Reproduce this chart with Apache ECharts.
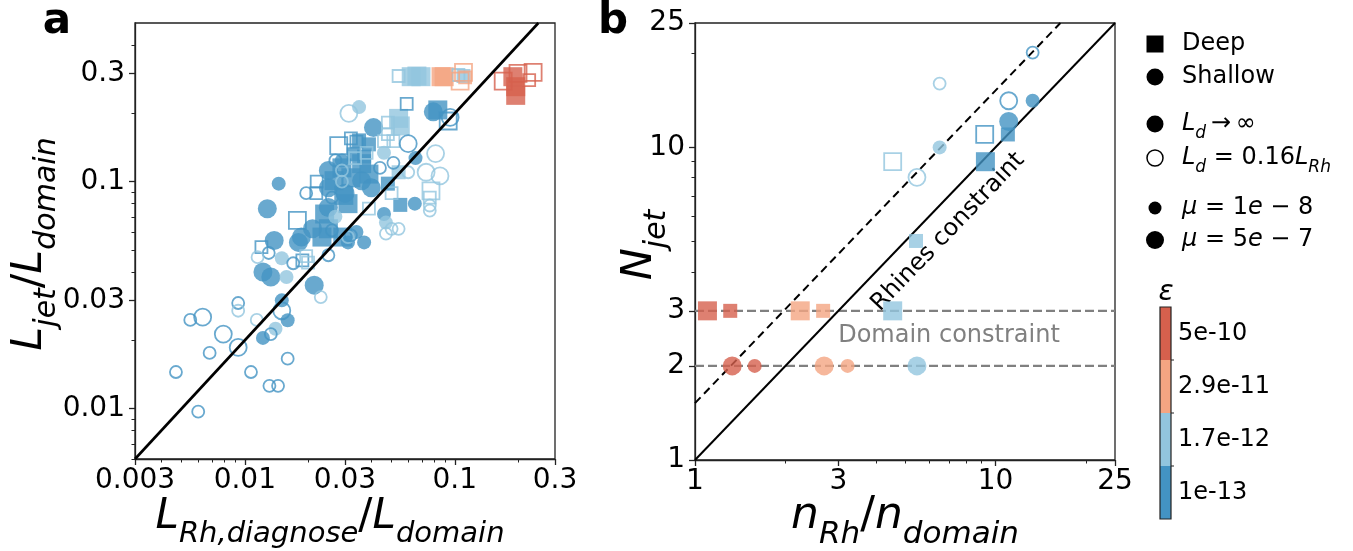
<!DOCTYPE html>
<html>
<head>
<meta charset="utf-8">
<script src="https://cdn.jsdelivr.net/npm/echarts@6.0.0/dist/echarts.min.js"></script>
<style>
  html, body { margin: 0; padding: 0; background: #fff; }
  #chart { width: 1353px; height: 551px; }
</style>
</head>
<body>
<div id="chart"></div>
<script>
// epsilon classes (colour bar, bottom to top)
const epsColors = ['#4393c3', '#92c5de', '#f4a582', '#d6604d'];
const epsLabels = ['1e-13', '1.7e-12', '2.9e-11', '5e-10'];

// axes
const aXRange = [0.003, 0.3];
const aYRange = [0.006, 0.5];
const aXTicks = [0.003, 0.01, 0.03, 0.1, 0.3];
const aXMinor = [0.004, 0.005, 0.006, 0.007, 0.008, 0.009, 0.02, 0.04, 0.05, 0.06, 0.07, 0.08, 0.09, 0.2];
const aYTicks = [0.01, 0.03, 0.1, 0.3];
const aYMinor = [0.006, 0.007, 0.008, 0.009, 0.02, 0.04, 0.05, 0.06, 0.07, 0.08, 0.09, 0.2, 0.4];
const bRange = [1, 25];
const bXTicks = [1, 3, 10, 25];
const bXMinor = [2, 4, 5, 6, 7, 8, 9, 20];
const bYTicks = [1, 2, 3, 10, 25];
const bYMinor = [4, 5, 6, 7, 8, 9, 20];

// panel a points: [L_Rh/L_domain, L_jet/L_domain, eps class, mu (0 = 1e-8, 1 = 5e-7)]
const aDeepFilled = [
  [0.062, 0.290, 1, 1], [0.066, 0.292, 1, 1], [0.069, 0.290, 1, 1],
  [0.086, 0.290, 2, 1], [0.089, 0.290, 2, 1], [0.110, 0.292, 1, 0],
  [0.189, 0.290, 3, 1], [0.195, 0.262, 3, 1], [0.195, 0.240, 3, 1],
  [0.083, 0.207, 0, 1], [0.054, 0.190, 1, 1], [0.055, 0.176, 1, 1],
  [0.039, 0.146, 0, 0], [0.035, 0.152, 0, 0], [0.029, 0.115, 0, 1],
  [0.036, 0.120, 0, 1], [0.039, 0.108, 0, 1], [0.054, 0.110, 1, 0],
  [0.048, 0.098, 0, 0], [0.055, 0.079, 0, 0], [0.031, 0.080, 0, 1],
  [0.024, 0.072, 0, 1], [0.025, 0.062, 0, 1], [0.0233, 0.057, 0, 1],
  [0.0293, 0.057, 0, 1], [0.0266, 0.101, 0, 1], [0.0296, 0.087, 0, 1],
  [0.033, 0.132, 0, 0], [0.037, 0.129, 0, 0], [0.032, 0.104, 0, 1]
];
const aDeepOpen = [
  [0.054, 0.292, 1, 0], [0.104, 0.295, 1, 0], [0.110, 0.303, 2, 1],
  [0.106, 0.277, 2, 1], [0.112, 0.288, 2, 0], [0.170, 0.277, 3, 1],
  [0.200, 0.300, 3, 1], [0.236, 0.303, 3, 1], [0.226, 0.280, 3, 0],
  [0.059, 0.220, 0, 0], [0.093, 0.185, 0, 1], [0.048, 0.182, 1, 0],
  [0.048, 0.162, 1, 0], [0.046, 0.151, 1, 0], [0.051, 0.151, 1, 0],
  [0.028, 0.144, 0, 1], [0.032, 0.155, 0, 0], [0.034, 0.150, 0, 0],
  [0.038, 0.134, 1, 0], [0.0335, 0.127, 1, 0], [0.050, 0.089, 1, 0],
  [0.077, 0.091, 1, 1], [0.076, 0.085, 1, 0], [0.022, 0.100, 0, 0],
  [0.0219, 0.089, 0, 0], [0.039, 0.076, 1, 0], [0.0178, 0.0675, 0, 1],
  [0.012, 0.0515, 0, 0], [0.0188, 0.045, 0, 0], [0.0196, 0.047, 1, 0],
  [0.020, 0.044, 1, 0]
];
const aShallowFilled = [
  [0.035, 0.213, 1, 0], [0.041, 0.173, 0, 1], [0.046, 0.134, 1, 0],
  [0.065, 0.127, 0, 0], [0.025, 0.112, 0, 1], [0.029, 0.124, 0, 0],
  [0.079, 0.203, 0, 1], [0.0145, 0.098, 0, 0], [0.0128, 0.076, 0, 1],
  [0.025, 0.094, 0, 1], [0.030, 0.089, 0, 1], [0.036, 0.101, 0, 1],
  [0.040, 0.094, 0, 1], [0.025, 0.077, 0, 1], [0.0645, 0.080, 0, 0],
  [0.046, 0.072, 0, 0], [0.047, 0.066, 1, 0], [0.027, 0.070, 1, 0],
  [0.021, 0.062, 0, 1], [0.0186, 0.057, 0, 1], [0.034, 0.060, 0, 0],
  [0.037, 0.054, 0, 0], [0.031, 0.054, 0, 0], [0.0138, 0.055, 0, 1],
  [0.015, 0.046, 1, 0], [0.018, 0.054, 0, 1], [0.0122, 0.040, 0, 1],
  [0.0133, 0.038, 0, 1], [0.0158, 0.038, 1, 0], [0.0214, 0.035, 0, 1],
  [0.015, 0.030, 0, 0], [0.016, 0.0245, 0, 0], [0.014, 0.0225, 1, 0],
  [0.0122, 0.0205, 0, 0]
];
const aShallowOpen = [
  [0.0313, 0.200, 1, 1], [0.095, 0.192, 0, 1], [0.060, 0.147, 0, 1],
  [0.081, 0.133, 1, 1], [0.027, 0.124, 0, 0], [0.029, 0.112, 1, 0],
  [0.044, 0.115, 0, 0], [0.051, 0.121, 0, 0], [0.060, 0.110, 1, 0],
  [0.073, 0.110, 1, 1], [0.085, 0.106, 1, 1], [0.076, 0.0785, 1, 0],
  [0.076, 0.0746, 1, 0], [0.0196, 0.089, 0, 0], [0.026, 0.085, 0, 0],
  [0.029, 0.100, 1, 0], [0.026, 0.061, 0, 0], [0.031, 0.057, 1, 0],
  [0.050, 0.062, 1, 0], [0.054, 0.062, 1, 0], [0.047, 0.059, 1, 0],
  [0.032, 0.058, 0, 0], [0.013, 0.0485, 0, 0], [0.0115, 0.0465, 1, 0],
  [0.017, 0.0437, 0, 0], [0.025, 0.0474, 0, 0], [0.023, 0.031, 1, 0],
  [0.0093, 0.0292, 0, 0], [0.0093, 0.027, 1, 0], [0.015, 0.027, 0, 1],
  [0.0055, 0.0246, 0, 0], [0.0063, 0.0253, 0, 1], [0.0114, 0.0246, 1, 0],
  [0.0079, 0.0213, 0, 1], [0.0133, 0.0213, 0, 0], [0.0093, 0.0186, 0, 1],
  [0.0068, 0.0176, 0, 0], [0.016, 0.0166, 0, 0], [0.0047, 0.0145, 0, 0],
  [0.0107, 0.0145, 0, 0], [0.0131, 0.0126, 0, 0], [0.0144, 0.0126, 0, 0],
  [0.0060, 0.0097, 0, 0]
];

// panel b points: [n_Rh/n_domain, N_jet, eps class, mu]
const bDeepFilled = [
  [1.10, 3, 3, 1], [1.31, 3, 3, 0], [2.24, 3, 2, 1], [2.67, 3, 2, 0], [4.55, 3, 1, 1],
  [11.0, 11.0, 0, 0], [9.26, 9.0, 0, 1], [5.44, 5.02, 1, 0]
];
const bDeepOpen = [[9.21, 11.0, 0, 1], [4.55, 9.0, 1, 1]];
const bShallowFilled = [
  [1.33, 2, 3, 1], [1.58, 2, 3, 0], [2.69, 2, 2, 1], [3.22, 2, 2, 0], [5.48, 2, 1, 1],
  [13.3, 14.1, 0, 0], [11.07, 12.1, 0, 1], [6.52, 10.0, 1, 0]
];
const bShallowOpen = [[13.3, 20.1, 0, 0], [6.52, 16.0, 1, 0], [11.07, 14.1, 0, 1], [5.48, 8.02, 1, 1]];

// reference lines
const aDiagonal = [[0.003, 0.006], [0.25, 0.5]];
const bRhines = [[1, 1], [25, 25]];
const bRhinesShifted = [[1, 1.52], [16.45, 25]];
const bDomain3 = [[1, 3], [25, 3]];
const bDomain2 = [[1, 2], [25, 2]];

const legendLabels = ['Deep', 'Shallow', '{i|L}{s|d}{n|\u2009→\u2009∞}', '{i|L}{s|d}{n| = 0.16}{i|L}{s|Rh}',
  '{i|μ}{n| = 1}{i|e}{n| − 8}', '{i|μ}{n| = 5}{i|e}{n| − 7}'];

const FONT = 'DejaVu Sans';
const lg = Math.log10;
const markerSize = [14, 19];
const AXIS = '#222';

function scatter(rows, grid, shape, filled) {
  return {
    type: 'scatter', xAxisIndex: grid * 2, yAxisIndex: grid * 2, symbol: shape, z: 3, silent: true,
    data: rows.map(r => ({
      value: [lg(r[0]), lg(r[1])],
      symbolSize: filled ? markerSize[r[3]] : markerSize[r[3]] - 2,
      itemStyle: filled
        ? { color: epsColors[r[2]] }
        : { color: 'rgba(255,255,255,0)', borderColor: epsColors[r[2]], borderWidth: 1.8 }
    }))
  };
}

function line(points, grid, color, width, dash, z) {
  return {
    type: 'line', xAxisIndex: grid * 2, yAxisIndex: grid * 2, symbol: 'none', silent: true, z: z,
    data: points.map(p => [lg(p[0]), lg(p[1])]),
    lineStyle: { color: color, width: width, type: dash }
  };
}

function tickText(ticks) {
  return v => {
    const t = ticks.find(t => Math.abs(lg(t) - v) < 1e-6);
    return t === undefined ? '' : String(t);
  };
}

function axes(dim, grid, range, ticks, minor) {
  const base = {
    type: 'value', gridIndex: grid, position: dim === 'x' ? 'bottom' : 'left',
    min: lg(range[0]), max: lg(range[1]), splitLine: { show: false }
  };
  return [
    Object.assign({}, base, {
      axisLine: { show: true, onZero: false, lineStyle: { color: AXIS, width: 1.3 } },
      axisTick: { show: true, length: 6, lineStyle: { color: AXIS, width: 1.3 }, customValues: ticks.map(lg) },
      axisLabel: {
        customValues: ticks.map(lg), formatter: tickText(ticks),
        fontFamily: FONT, fontSize: 28, color: '#000', margin: dim === 'x' ? 8 : 10
      }
    }),
    Object.assign({}, base, {
      axisLine: { show: false, onZero: false },
      axisTick: { show: true, length: 3.5, lineStyle: { color: AXIS, width: 1 }, customValues: minor.map(lg) },
      axisLabel: { show: false }
    })
  ];
}

function mathRich(F) {
  const sub = Math.round(F * 0.7);
  const L = Math.round(F * 1.5);
  return {
    i: { fontFamily: FONT, fontStyle: 'italic', fontSize: F, lineHeight: L, fill: '#000' },
    n: { fontFamily: FONT, fontSize: F, lineHeight: L, fill: '#000' },
    s: { fontFamily: FONT, fontStyle: 'italic', fontSize: sub, lineHeight: L - Math.round(F * 0.44), verticalAlign: 'bottom', fill: '#000' }
  };
}

function mathText(text, x, y, F, rotation, align) {
  return {
    type: 'text', x: x, y: y, rotation: rotation || 0, silent: true,
    style: { text: text, rich: mathRich(F), align: align || 'center', verticalAlign: 'middle', fontFamily: FONT, fontSize: F, fill: '#000' }
  };
}

const graphic = [
  { type: 'text', x: 57, y: 22, silent: true, style: { text: 'a', fontFamily: FONT, fontWeight: 'bold', fontSize: 42, fill: '#000', align: 'center', verticalAlign: 'middle' } },
  { type: 'text', x: 613, y: 22, silent: true, style: { text: 'b', fontFamily: FONT, fontWeight: 'bold', fontSize: 42, fill: '#000', align: 'center', verticalAlign: 'middle' } },
  mathText('{i|L}{s|jet}{n|/}{i|L}{s|domain}', 30, 244, 43, Math.PI / 2),
  mathText('{i|L}{s|Rh,diagnose}{n|/}{i|L}{s|domain}', 330, 517, 42),
  mathText('{i|N}{s|jet}', 640, 245, 43, Math.PI / 2),
  mathText('{i|n}{s|Rh}{n|/}{i|n}{s|domain}', 905, 517, 44),
  { type: 'text', x: 948, y: 232, rotation: Math.atan(312.6 / 300), silent: true,
    style: { text: 'Rhines constraint', fontFamily: FONT, fontSize: 24, fill: '#000', align: 'center', verticalAlign: 'middle' } },
  { type: 'text', x: 949, y: 336, silent: true,
    style: { text: 'Domain constraint', fontFamily: FONT, fontSize: 24, fill: '#808080', align: 'center', verticalAlign: 'middle' } },
  // legend markers
  { type: 'rect', silent: true, shape: { x: 1146.5, y: 35.5, width: 17, height: 17 }, style: { fill: '#000' } },
  { type: 'circle', silent: true, shape: { cx: 1155, cy: 77, r: 8.5 }, style: { fill: '#000' } },
  { type: 'circle', silent: true, shape: { cx: 1155, cy: 124, r: 8.5 }, style: { fill: '#000' } },
  { type: 'circle', silent: true, shape: { cx: 1155, cy: 158, r: 8 }, style: { fill: '#fff', stroke: '#000', lineWidth: 1.5 } },
  { type: 'circle', silent: true, shape: { cx: 1155, cy: 208, r: 6.5 }, style: { fill: '#000' } },
  { type: 'circle', silent: true, shape: { cx: 1155, cy: 240, r: 9 }, style: { fill: '#000' } }
];
const legendY = [44, 77, 124, 158, 208, 240];
legendLabels.forEach((t, k) => graphic.push(mathText(t, 1182, legendY[k], 24, 0, 'left')));

// colour bar
const cbTop = 307, cbSeg = 53, cbX = 1160, cbW = 11;
epsColors.forEach((c, k) => {
  graphic.push({ type: 'rect', silent: true, shape: { x: cbX, y: cbTop + (3 - k) * cbSeg, width: cbW, height: cbSeg }, style: { fill: c } });
  graphic.push({ type: 'text', x: 1178, y: cbTop + (3 - k) * cbSeg + cbSeg / 2, silent: true,
    style: { text: epsLabels[k], fontFamily: FONT, fontSize: 24, fill: '#000', align: 'left', verticalAlign: 'middle' } });
});
graphic.push({ type: 'rect', silent: true, shape: { x: cbX, y: cbTop, width: cbW, height: cbSeg * 4 }, style: { fill: 'none', stroke: AXIS, lineWidth: 1.2 } });
[1, 2, 3].forEach(k => graphic.push({ type: 'line', silent: true,
  shape: { x1: cbX + cbW, y1: cbTop + k * cbSeg, x2: cbX + cbW + 3, y2: cbTop + k * cbSeg }, style: { stroke: AXIS, lineWidth: 1 } }));
graphic.push({ type: 'text', x: 1166, y: 293, silent: true,
  style: { text: 'ε', fontFamily: FONT, fontStyle: 'italic', fontSize: 28, fill: '#000', align: 'center', verticalAlign: 'middle' } });

const chart = echarts.init(document.getElementById('chart'), null, { renderer: 'canvas' });
chart.setOption({
  animation: false,
  backgroundColor: '#fff',
  grid: [
    { left: 135, top: 23, width: 420, height: 436, show: true, borderColor: AXIS, borderWidth: 1.3, outerBoundsMode: 'none' },
    { left: 695, top: 23, width: 420, height: 437, show: true, borderColor: AXIS, borderWidth: 1.3, outerBoundsMode: 'none' }
  ],
  xAxis: [].concat(axes('x', 0, aXRange, aXTicks, aXMinor), axes('x', 1, bRange, bXTicks, bXMinor)),
  yAxis: [].concat(axes('y', 0, aYRange, aYTicks, aYMinor), axes('y', 1, bRange, bYTicks, bYMinor)),
  series: [
    scatter(aDeepFilled, 0, 'rect', true),
    scatter(aShallowFilled, 0, 'circle', true),
    scatter(aDeepOpen, 0, 'rect', false),
    scatter(aShallowOpen, 0, 'circle', false),
    line(aDiagonal, 0, '#000', 2.6, 'solid', 5),
    line(bDomain3, 1, '#808080', 2.4, [9, 4], 1),
    line(bDomain2, 1, '#808080', 2.4, [9, 4], 1),
    line(bRhines, 1, '#000', 2, 'solid', 1),
    line(bRhinesShifted, 1, '#000', 2, [8, 5], 1),
    scatter(bDeepFilled, 1, 'rect', true),
    scatter(bShallowFilled, 1, 'circle', true),
    scatter(bDeepOpen, 1, 'rect', false),
    scatter(bShallowOpen, 1, 'circle', false)
  ],
  graphic: graphic
});
</script>
</body>
</html>
